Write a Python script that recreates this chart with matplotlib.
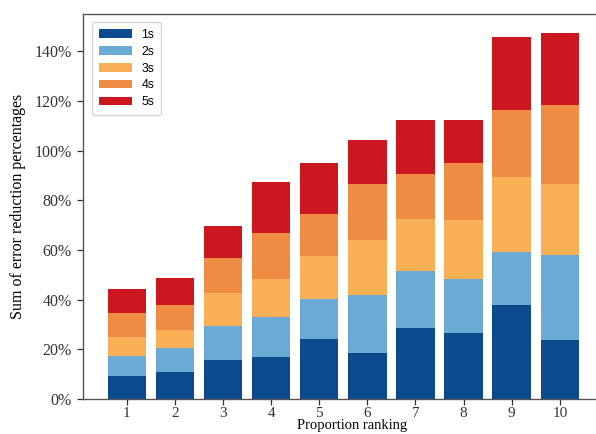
import matplotlib

matplotlib.use("Agg")
import matplotlib.pyplot as plt
import numpy as np

RANKS = [1, 2, 3, 4, 5, 6, 7, 8, 9, 10]
SERIES = ["1s", "2s", "3s", "4s", "5s"]

# cumulative tops (percent)
TOP_1S = [9.3, 11.0, 15.8, 16.8, 24.1, 18.4, 28.4, 26.7, 37.7, 23.7]
TOP_2S = [17.4, 20.5, 29.5, 32.9, 40.4, 41.9, 51.6, 48.2, 59.0, 58.1]
TOP_3S = [24.9, 27.6, 42.7, 48.2, 57.5, 64.0, 72.6, 72.2, 89.3, 86.6]
TOP_4S = [34.5, 37.7, 56.9, 66.7, 74.4, 86.6, 90.5, 95.2, 116.3, 118.4]
TOP_5S = [44.3, 48.6, 69.7, 87.4, 95.1, 104.2, 112.3, 112.3, 145.8, 147.5]

COLORS = ["#0c4a8e", "#6aaad4", "#f9af55", "#ef8c44", "#cc1620"]


def main() -> None:
    tops = np.array([TOP_1S, TOP_2S, TOP_3S, TOP_4S, TOP_5S])
    bottoms = np.vstack([np.zeros(len(RANKS)), tops[:-1]])
    heights = tops - bottoms

    fig = plt.figure(figsize=(5.96, 4.34), dpi=100)
    # the right edge of the axes runs past the figure, as in the cropped original
    ax = fig.add_axes([83 / 596, 1 - 399 / 434, 538.4 / 596, 385 / 434])

    for name, color, h, b in zip(SERIES, COLORS, heights, bottoms):
        ax.bar(RANKS, h, bottom=b, width=0.8, color=color, label=name)

    ax.set_xlim(0.09, 11.28)
    ax.set_ylim(0, 155)
    ax.set_xticks(RANKS)
    ax.set_yticks(np.arange(0, 141, 20))
    ax.set_yticklabels([f"{v}%" for v in range(0, 141, 20)])

    for lab in ax.get_yticklabels():
        lab.set_fontfamily("Liberation Serif")
        lab.set_fontsize(11.5)
    for lab in ax.get_xticklabels():
        lab.set_fontfamily("Liberation Serif")
        lab.set_fontsize(11)
    ax.set_xlabel("Proportion ranking", family="Liberation Serif", size=10.5,
                  labelpad=-1)
    ax.set_ylabel("Sum of error reduction percentages", family="Liberation Serif",
                  size=11.5, labelpad=6)

    for spine in ax.spines.values():
        spine.set_color("#555555")
        spine.set_linewidth(1.0)
    ax.tick_params(colors="#333333", length=4.5, width=0.9)
    ax.tick_params(axis="x", length=4, pad=2)

    ax.legend(loc="upper left", prop={"family": "Liberation Sans", "size": 8.8},
              handlelength=2.7, labelspacing=0.4, borderpad=0.55,
              bbox_to_anchor=(0.005, 0.995))

    fig.savefig("out.png", dpi=100)


if __name__ == "__main__":
    main()
